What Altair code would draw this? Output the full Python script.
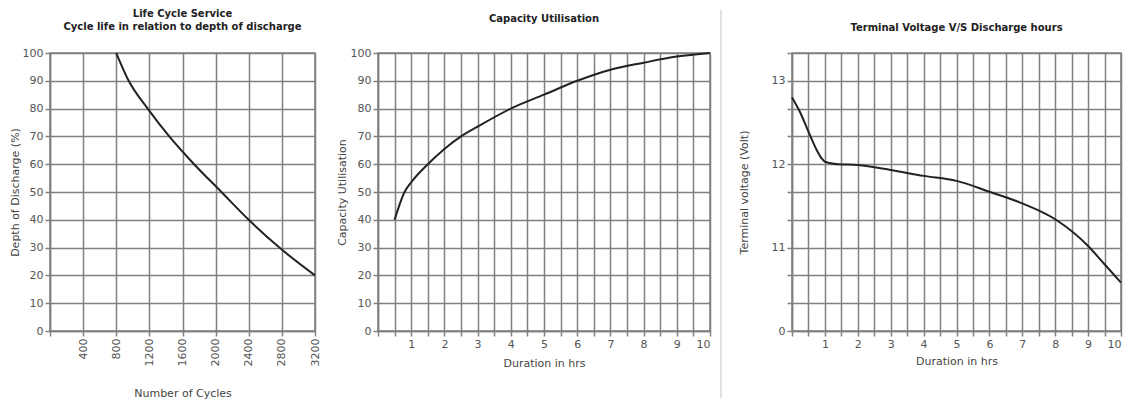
import altair as alt
import pandas as pd

# ---- Panel 1: Life Cycle Service ----
cycles = [800, 950, 1180, 1440, 1740, 2070, 2400, 2770, 3200]
dod = [100, 90, 80, 70, 60, 50, 40, 30, 20]
cycle_ticks = [0, 400, 800, 1200, 1600, 2000, 2400, 2800, 3200]
pct_ticks = [0, 10, 20, 30, 40, 50, 60, 70, 80, 90, 100]

# ---- Panel 2: Capacity Utilisation ----
hrs_cap = [0.5, 0.8, 1, 1.5, 2, 2.5, 3, 4, 5, 6, 7, 8, 9, 10]
cap = [40, 50, 53.5, 60, 65.5, 70, 73.5, 80, 85, 90, 94, 96.5, 98.7, 100]
hour_ticks = [0, 0.5, 1, 1.5, 2, 2.5, 3, 3.5, 4, 4.5, 5, 5.5, 6, 6.5, 7, 7.5, 8, 8.5, 9, 9.5, 10]

# ---- Panel 3: Terminal Voltage ----
hrs_v = [0, 0.25, 0.5, 0.75, 0.9, 1, 1.4, 2, 3, 4, 5, 6, 7, 8, 9, 9.5, 10]
volt = [12.8, 12.62, 12.39, 12.17, 12.07, 12.03, 12.0, 11.99, 11.93, 11.86, 11.8, 11.67, 11.53, 11.34, 11.02, 10.8, 10.58]
volt_ticks = [10, 10.3333, 10.6667, 11, 11.3333, 11.6667, 12, 12.3333, 12.6667, 13, 13.3333]

titles = {
    "p1": ["Life Cycle Service", "Cycle life in relation to depth of discharge"],
    "p2": "Capacity Utilisation",
    "p3": "Terminal Voltage V/S Discharge hours",
}

df1 = pd.DataFrame({"cycles": cycles, "dod": dod})
df2 = pd.DataFrame({"hrs": hrs_cap, "cap": cap})
df3 = pd.DataFrame({"hrs": hrs_v, "volt": volt})

LINE = dict(color="#222222", strokeWidth=2, interpolate="monotone")
TFONT = "DejaVu Sans"
HOUR_LABELS = "(datum.value == 0 || datum.value % 1 != 0) ? '' : format(datum.value, 'd')"

p1 = alt.Chart(df1).mark_line(**LINE).encode(
    x=alt.X("cycles:Q", scale=alt.Scale(domain=[0, 3200], nice=False),
            axis=alt.Axis(values=cycle_ticks, format="d", labelAngle=-90, labelOverlap=False,
                          labelExpr="datum.value == 0 ? '' : datum.label",
                          title="Number of Cycles", titlePadding=22)),
    y=alt.Y("dod:Q", scale=alt.Scale(domain=[0, 100], nice=False),
            axis=alt.Axis(values=pct_ticks, title="Depth of Discharge (%)", titlePadding=2)),
).properties(
    width=265, height=278,
    title=alt.TitleParams(titles["p1"], anchor="middle", frame="group", offset=15, lineHeight=13),
)

p2_line = alt.Chart(df2).mark_line(**LINE).encode(
    x=alt.X("hrs:Q", scale=alt.Scale(domain=[0, 10], nice=False),
            axis=alt.Axis(values=hour_ticks, labelExpr=HOUR_LABELS, labelOverlap=False,
                          title="Duration in hrs", titlePadding=8)),
    y=alt.Y("cap:Q", scale=alt.Scale(domain=[0, 100], nice=False),
            axis=alt.Axis(values=pct_ticks, title="Capacity Utilisation", titlePadding=3)),
)
sep = alt.Chart(pd.DataFrame({"a": [0]})).mark_rule(color="#d8d8d8", strokeWidth=1.5).encode(
    x=alt.value(343), y=alt.value(-43), y2=alt.value(345)
)
p2_title = alt.Chart(pd.DataFrame({"t": [titles["p2"]]})).mark_text(
    font=TFONT, fontSize=10, fontWeight="bold", color="#222222", baseline="middle", align="center"
).encode(text="t:N", x=alt.value(166), y=alt.value(-34))
p2 = alt.layer(p2_line, sep, p2_title).properties(width=332, height=278)

p3 = alt.Chart(df3).mark_line(**LINE).encode(
    x=alt.X("hrs:Q", scale=alt.Scale(domain=[0, 10], nice=False),
            axis=alt.Axis(values=hour_ticks, labelExpr=HOUR_LABELS, labelOverlap=False,
                          title="Duration in hrs", titlePadding=6)),
    y=alt.Y("volt:Q", scale=alt.Scale(domain=[10, 13.3333], nice=False, zero=False),
            axis=alt.Axis(values=volt_ticks, labelOverlap=False,
                          labelExpr="datum.value < 10.01 ? '0' : (abs(datum.value - round(datum.value)) < 0.01 ? format(round(datum.value), 'd') : '')",
                          title="Terminal voltage (Volt)", titlePadding=22)),
).properties(
    width=329, height=278,
    title=alt.TitleParams(titles["p3"], anchor="middle", frame="group", offset=14),
)

chart = alt.hconcat(p1, p2, p3, spacing=14).properties(padding=0).configure_axis(
    labelFont=TFONT, labelFontSize=11, labelColor="#555555",
    titleFont=TFONT, titleFontSize=11, titleFontWeight="normal", titleColor="#444444",
    gridColor="#808080", gridWidth=1.5, gridOpacity=1,
    domainColor="#808080", domainWidth=1.5, tickColor="#808080", tickWidth=1.5, tickSize=5,
).configure_view(stroke="#808080", strokeWidth=1.5).configure_title(
    font=TFONT, fontSize=10, fontWeight="bold", color="#222222"
)

chart.save("out.html", embed_options={"renderer": "svg", "actions": False})
